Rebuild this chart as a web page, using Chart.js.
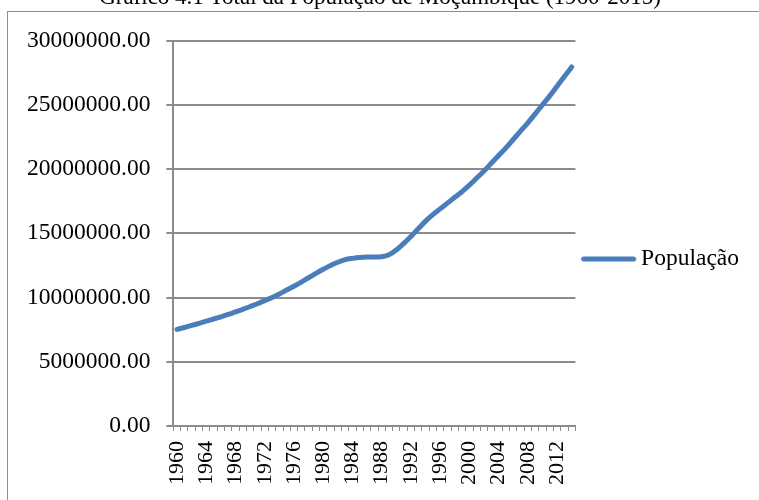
<!DOCTYPE html>
<html>
<head>
<meta charset="utf-8">
<script src="https://cdn.jsdelivr.net/npm/chart.js@4"></script>
<style>
  html, body { margin:0; padding:0; background:#fff; overflow:hidden; }
  #frame { position:absolute; left:7px; top:11px; width:900px; height:700px; border:1px solid #8c8c8c; box-sizing:border-box; }
  #wrap { position:absolute; left:0; top:-16px; width:759px; height:516px; }
</style>
</head>
<body>
<div id="frame"></div>
<div id="wrap"><canvas id="c"></canvas></div>
<script>
const titleText = "Gráfico 4.1 Total da População de Moçambique (1960-2015)";
const seriesName = "População";
const years = [];
for (let y = 1960; y <= 2014; y++) years.push(String(y));
const population = [
  7520000, 7670000, 7830000, 7990000, 8160000, 8330000, 8500000, 8680000, 8880000, 9080000,
  9300000, 9520000, 9760000, 10000000, 10280000, 10580000, 10880000, 11200000, 11540000, 11880000,
  12200000, 12500000, 12750000, 12950000, 13050000, 13120000, 13150000, 13150000, 13180000, 13330000,
  13700000, 14200000, 14750000, 15350000, 15950000, 16450000, 16900000, 17350000, 17800000, 18250000,
  18750000, 19300000, 19850000, 20450000, 21050000, 21650000, 22300000, 22950000, 23600000, 24300000,
  25000000, 25700000, 26450000, 27200000, 27950000
];
const yTicks = [0, 5000000, 10000000, 15000000, 20000000, 25000000, 30000000];

const serif = "'Liberation Serif', 'Times New Roman', serif";
const gridCol = '#8c8c8c';
const lineCol = '#4a7ebb';

// legend icon: a short thick line with round caps (transparent left margin)
const icon = document.createElement('canvas');
icon.width = 70; icon.height = 10;
(function(){
  const g = icon.getContext('2d');
  g.strokeStyle = lineCol; g.lineWidth = 5; g.lineCap = 'round';
  g.beginPath(); g.moveTo(14.25, 5); g.lineTo(64.25, 5); g.stroke();
})();

new Chart(document.getElementById('c'), {
  type: 'line',
  data: {
    labels: years,
    datasets: [{
      label: seriesName,
      data: population,
      borderColor: lineCol,
      backgroundColor: lineCol,
      borderWidth: 5,
      borderCapStyle: 'round',
      borderJoinStyle: 'round',
      pointRadius: 0,
      pointHoverRadius: 0,
      tension: 0.4,
      cubicInterpolationMode: 'monotone',
      fill: false
    }]
  },
  options: {
    responsive: true,
    maintainAspectRatio: false,
    animation: false,
    layout: { padding: { left: 11, right: 10, top: 0, bottom: 5 } },
    plugins: {
      title: {
        display: true,
        text: titleText,
        color: '#000',
        font: { family: serif, size: 23, weight: 'normal' },
        padding: { top: 0, bottom: 29 }
      },
      legend: {
        position: 'right',
        title: { display: true, text: '', font: { size: 10 }, padding: { top: 27, bottom: 0 } },
        labels: {
          color: '#000',
          font: { family: serif, size: 23.5 },
          usePointStyle: true,
          pointStyle: icon,
          pointStyleWidth: 50,
          padding: 4
        }
      },
      tooltip: { enabled: false }
    },
    scales: {
      x: {
        offset: true,
        grid: { offset: true, drawOnChartArea: false, color: gridCol, lineWidth: 1, tickLength: 5, tickColor: gridCol },
        border: { color: gridCol, width: 2 },
        ticks: {
          autoSkip: false,
          maxRotation: 90,
          minRotation: 90,
          color: '#000',
          font: { family: serif, size: 22 },
          padding: 10,
          callback: function(v, i) { const y = Number(years[i]); return (y - 1960) % 4 === 0 ? years[i] : ''; }
        }
      },
      y: {
        min: 0,
        max: 30000000,
        afterBuildTicks: function(s) { s.ticks = yTicks.map(v => ({ value: v })); },
        grid: { color: gridCol, lineWidth: 2, tickLength: 7, tickColor: gridCol },
        border: { color: gridCol, width: 2 },
        ticks: {
          color: '#000',
          font: { family: serif, size: 23.5 },
          padding: 16,
          callback: function(v) { return Number(v).toFixed(2); }
        }
      }
    }
  }
});
</script>
</body>
</html>
